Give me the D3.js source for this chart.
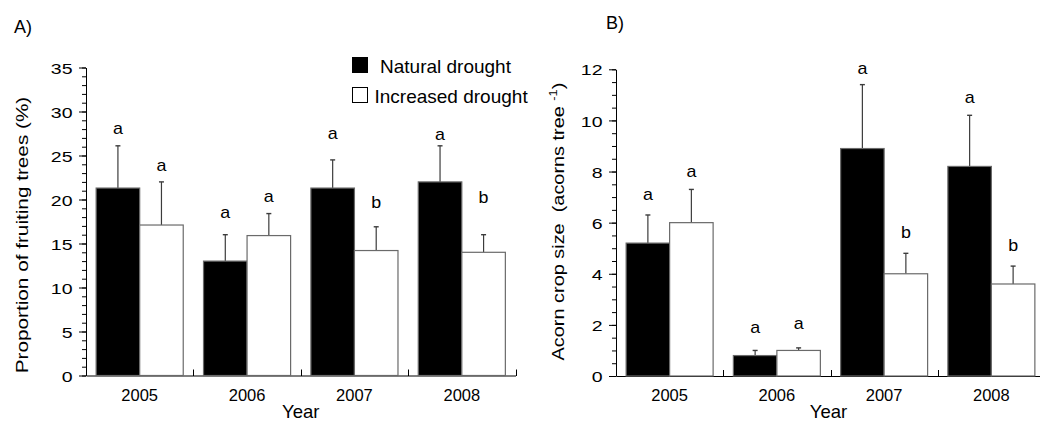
<!DOCTYPE html>
<html>
<head>
<meta charset="utf-8">
<script src="https://cdn.jsdelivr.net/npm/d3@7"></script>
<style>
  html, body { margin: 0; padding: 0; background: #fff; }
  svg { display: block; font-family: "Liberation Sans", Arial, Helvetica, sans-serif; }
</style>
</head>
<body>
<svg id="chart" width="1040" height="428"></svg>
<script>
// ---- data ----
const years = ["2005", "2006", "2007", "2008"];
const seriesNames = ["Natural drought", "Increased drought"];

// A) proportion of fruiting trees (%), mean and upper SE
const fruitNatural = [21.3, 13.0, 21.3, 22.0];
const fruitNaturalSE = [4.8, 3.0, 3.2, 4.1];
const fruitIncreased = [17.1, 15.9, 14.2, 14.0];
const fruitIncreasedSE = [4.9, 2.5, 2.7, 2.0];
const fruitLettersNatural = ["a", "a", "a", "a"];
const fruitLettersIncreased = ["a", "a", "b", "b"];
// height (in % units) at which each significance letter sits
const fruitLetterAtNatural = [28.0, 18.5, 27.5, 27.3];
const fruitLetterAtIncreased = [23.8, 20.3, 19.6, 20.2];
const fruitTicks = [0, 5, 10, 15, 20, 25, 30, 35];

// B) acorn crop size (acorns per tree), mean and upper SE
const acornNatural = [5.2, 0.8, 8.9, 8.2];
const acornNaturalSE = [1.1, 0.2, 2.5, 2.0];
const acornIncreased = [6.0, 1.0, 4.0, 3.6];
const acornIncreasedSE = [1.3, 0.1, 0.8, 0.7];
const acornLettersNatural = ["a", "a", "a", "a"];
const acornLettersIncreased = ["a", "a", "b", "b"];
const acornLetterAtNatural = [7.1, 1.9, 12.0, 10.9];
const acornLetterAtIncreased = [8.0, 2.05, 5.6, 5.1];
const acornTicks = [0, 2, 4, 6, 8, 10, 12];

// ---- drawing ----
const svg = d3.select("#chart");
const barFill = ["#000000", "#ffffff"];
const barStroke = "#6a6a6a";
const errStroke = "#3c3c3c";

function drawPanel(o) {
  const g = svg.append("g");
  const x = d3.scaleBand().domain(years).range([o.x0, o.x1]);
  const xs = d3.scaleBand().domain(seriesNames).range([0, x.bandwidth()]).paddingOuter(0.233);
  const y = d3.scaleLinear().domain([0, o.yMax]).range([o.yBottom, o.yTop]);

  // minor y ticks
  g.append("g")
    .attr("transform", `translate(${o.x0},0)`)
    .call(d3.axisLeft(y).tickValues(d3.range(0, o.yMax + 1e-9, o.minor)).tickSize(4).tickFormat(""))
    .call(a => a.select(".domain").remove())
    .call(a => a.selectAll("line").attr("stroke", "#000"));

  // major y ticks and labels
  const yAxis = g.append("g")
    .attr("transform", `translate(${o.x0},0)`)
    .call(d3.axisLeft(y).tickValues(o.ticks).tickSize(7).tickSizeOuter(0).tickFormat(d3.format("d")));
  yAxis.selectAll("path, line").attr("stroke", "#000");
  yAxis.selectAll("text")
    .attr("x", 0).attr("dy", "0.36em")
    .attr("transform", "translate(-13.5,0) scale(1.26,1)")
    .attr("font-size", 15.5).attr("fill", "#000")
    .attr("font-family", null);

  // x axis line, year labels and group separators
  const xAxis = g.append("g")
    .attr("transform", `translate(0,${o.yBottom})`)
    .call(d3.axisBottom(x).tickSize(0).tickSizeOuter(0));
  xAxis.select(".domain").attr("stroke", "#000");
  xAxis.selectAll("text")
    .attr("y", 25).attr("dy", 0)
    .attr("font-size", 16.5).attr("fill", "#000")
    .attr("font-family", null);
  xAxis.selectAll(".sep")
    .data(years)
    .join("line")
    .attr("class", "sep")
    .attr("x1", d => Math.round(x(d) + x.bandwidth()) + 0.5)
    .attr("x2", d => Math.round(x(d) + x.bandwidth()) + 0.5)
    .attr("y1", 0.5).attr("y2", -6)
    .attr("stroke", "#000");

  // bars, error bars and letters per series
  o.series.forEach((s, k) => {
    const rows = years.map((yr, i) => ({
      yr, v: s.values[i], se: s.se[i], lab: s.letters[i], at: s.letterAt[i]
    }));
    const key = seriesNames[k];
    const cx = d => x(d.yr) + xs(key) + xs.bandwidth() / 2;

    const eb = g.append("g");
    eb.selectAll("line.stem").data(rows).join("line")
      .attr("class", "stem")
      .attr("x1", cx).attr("x2", cx)
      .attr("y1", d => y(d.v)).attr("y2", d => y(d.v + d.se))
      .attr("stroke", errStroke).attr("stroke-width", 1.2);
    eb.selectAll("line.cap").data(rows).join("line")
      .attr("class", "cap")
      .attr("x1", d => cx(d) - 2.5).attr("x2", d => cx(d) + 2.5)
      .attr("y1", d => y(d.v + d.se)).attr("y2", d => y(d.v + d.se))
      .attr("stroke", errStroke).attr("stroke-width", 1.4);

    g.append("g").selectAll("rect").data(rows).join("rect")
      .attr("x", d => x(d.yr) + xs(key))
      .attr("width", xs.bandwidth())
      .attr("y", d => y(d.v))
      .attr("height", d => y(0) - y(d.v))
      .attr("fill", barFill[k])
      .attr("stroke", barStroke).attr("stroke-width", 1.2);

    g.append("g").selectAll("text").data(rows).join("text")
      .attr("transform", d => `translate(${cx(d)},${y(d.at)}) scale(1.05,1)`)
      .attr("dy", "0.3em")
      .attr("text-anchor", "middle")
      .attr("font-size", 17)
      .text(d => d.lab);
  });

  // x title
  g.append("text")
    .attr("x", (o.x0 + o.x1) / 2 + o.yearShift).attr("y", 418)
    .attr("text-anchor", "middle").attr("font-size", 18.5)
    .text("Year");

  // y title
  const yt = g.append("text")
    .attr("transform", `translate(${o.titleX},${o.titleY}) rotate(-90) scale(${o.titleStretch},1)`)
    .attr("text-anchor", "middle").attr("font-size", 17)
    .style("white-space", "pre").attr("xml:space", "preserve");
  o.title(yt);

  // panel tag
  g.append("text")
    .attr("x", o.tagX).attr("y", o.tagY)
    .attr("font-size", 18)
    .text(o.tag);

  return { g, x, y };
}

const pA = drawPanel({
  x0: 86, x1: 515.5, yTop: 67.5, yBottom: 375.5, yMax: 35, minor: 1, ticks: fruitTicks,
  series: [
    { values: fruitNatural, se: fruitNaturalSE, letters: fruitLettersNatural, letterAt: fruitLetterAtNatural },
    { values: fruitIncreased, se: fruitIncreasedSE, letters: fruitLettersIncreased, letterAt: fruitLetterAtIncreased }
  ],
  title: t => t.text("Proportion of fruiting trees (%)"),
  titleX: 28, titleY: 235, titleStretch: 1.22,
  yearShift: 0,
  tag: "A)", tagX: 14, tagY: 33
});

const pB = drawPanel({
  x0: 616, x1: 1045, yTop: 69.3, yBottom: 376, yMax: 12, minor: 0.5, ticks: acornTicks,
  series: [
    { values: acornNatural, se: acornNaturalSE, letters: acornLettersNatural, letterAt: acornLetterAtNatural },
    { values: acornIncreased, se: acornIncreasedSE, letters: acornLettersIncreased, letterAt: acornLetterAtIncreased }
  ],
  title: t => {
    t.append("tspan").text("Acorn crop size  (acorns tree ");
    t.append("tspan").attr("dy", -7).attr("font-size", 11).text("-1");
    t.append("tspan").attr("dy", 7).text(")");
  },
  titleX: 564, titleY: 221.5, titleStretch: 1.17,
  yearShift: -2,
  tag: "B)", tagX: 606, tagY: 29
});

// legend (panel A)
const legend = svg.append("g");
const legendRows = legend.selectAll("g").data(seriesNames).join("g");
legendRows.append("rect")
  .attr("x", (d, i) => i === 0 ? 352 : 352.5)
  .attr("y", (d, i) => i === 0 ? 57 : 87.5)
  .attr("width", (d, i) => i === 0 ? 16 : 15)
  .attr("height", (d, i) => i === 0 ? 16 : 15)
  .attr("fill", (d, i) => barFill[i])
  .attr("stroke", (d, i) => i === 0 ? "none" : "#000")
  .attr("stroke-width", 1);
legendRows.append("text")
  .attr("x", (d, i) => i === 0 ? 380 : 374.5)
  .attr("y", (d, i) => i === 0 ? 72.5 : 102.5)
  .attr("font-size", 19)
  .text(d => d);
</script>
</body>
</html>
